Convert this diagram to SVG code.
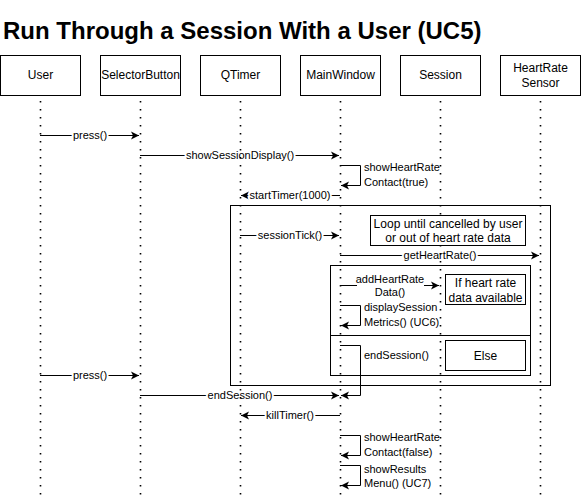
<svg xmlns="http://www.w3.org/2000/svg" width="581" height="498" viewBox="0 0 581 498">
<defs>
<marker id="arr" markerUnits="userSpaceOnUse" markerWidth="10" markerHeight="10" viewBox="0 0 10 8" refX="8" refY="4" orient="auto">
<path d="M0,0 L8,4 L0,8 L2,4 Z" fill="#000"/>
</marker>
<style>
.box{fill:#fff;stroke:#000;stroke-width:1}
.frame{fill:none;stroke:#000;stroke-width:1}
.t{font-family:"Liberation Sans",Arial,Helvetica,sans-serif;font-size:12px;fill:#000;text-anchor:middle}
.m{font-family:"Liberation Sans",Arial,Helvetica,sans-serif;font-size:11px;fill:#000;text-anchor:middle}
.ml{font-family:"Liberation Sans",Arial,Helvetica,sans-serif;font-size:11px;fill:#000;text-anchor:start}
.halo{paint-order:stroke;stroke:#fff;stroke-width:4px;stroke-linejoin:round}
.msg{fill:none;stroke:#000;stroke-width:1;marker-end:url(#arr)}
.life{stroke:#000;stroke-width:1.6;stroke-dasharray:1.6 6.4}
</style>
</defs>
<rect width="581" height="498" fill="#fff"/>
<text x="3" y="39" font-family="'Liberation Sans',Arial,Helvetica,sans-serif" font-size="24" font-weight="bold" fill="#000">Run Through a Session With a User (UC5)</text>

<g id="connectors">
<line class="msg" x1="40" y1="135.5" x2="139" y2="135.5"/>
<text class="m halo" x="90" y="139">press()</text>
<line class="msg" x1="140" y1="155.5" x2="339" y2="155.5"/>
<text class="m halo" x="240" y="159">showSessionDisplay()</text>
<path class="msg" d="M340,165.5 H360.5 V185.5 H341"/>
<text class="ml" x="364" y="171">showHeartRate</text>
<text class="ml" x="364" y="186">Contact(true)</text>
<line class="msg" x1="340" y1="195.5" x2="241" y2="195.5"/>
<text class="m halo" x="290" y="199">startTimer(1000)</text>
<line class="msg" x1="240" y1="235.5" x2="339" y2="235.5"/>
<text class="m halo" x="290" y="239">sessionTick()</text>
<line class="msg" x1="340" y1="255.5" x2="539" y2="255.5"/>
<text class="m halo" x="440" y="259">getHeartRate()</text>
<line class="msg" x1="340" y1="285.5" x2="439" y2="285.5"/>
<rect x="357" y="273" width="67" height="26" fill="#fff"/>
<text class="m" x="390" y="283">addHeartRate</text>
<text class="m" x="390" y="296">Data()</text>
<path class="msg" d="M340,305.5 H360.5 V325.5 H341"/>
<text class="ml" x="364" y="311">displaySession</text>
<text class="ml" x="364" y="326">Metrics() (UC6)</text>
<path class="msg" d="M340,345.5 H360.5 V395.5 H341"/>
<text class="ml" x="364" y="359">endSession()</text>
<line class="msg" x1="40" y1="375.5" x2="139" y2="375.5"/>
<text class="m halo" x="90" y="379">press()</text>
<line class="msg" x1="140" y1="395.5" x2="339" y2="395.5"/>
<text class="m halo" x="240" y="399">endSession()</text>
<line class="msg" x1="340" y1="415.5" x2="241" y2="415.5"/>
<text class="m halo" x="290" y="419">killTimer()</text>
<path class="msg" d="M340,435.5 H360.5 V455.5 H341"/>
<text class="ml" x="364" y="441">showHeartRate</text>
<text class="ml" x="364" y="456">Contact(false)</text>
<path class="msg" d="M340,465.5 H360.5 V485.5 H341"/>
<text class="ml" x="364" y="473">showResults</text>
<text class="ml" x="364" y="487">Menu() (UC7)</text>
</g>

<g id="lifelines">
<line class="life" x1="40.5" y1="101" x2="40.5" y2="498"/>
<line class="life" x1="140.5" y1="101" x2="140.5" y2="498"/>
<line class="life" x1="240.5" y1="101" x2="240.5" y2="498"/>
<line class="life" x1="340.5" y1="101" x2="340.5" y2="498"/>
<line class="life" x1="440.5" y1="101" x2="440.5" y2="498"/>
<line class="life" x1="540.5" y1="101" x2="540.5" y2="498"/>
</g>

<g id="node-user"><rect class="box" x="0.5" y="55.5" width="80" height="40"/><text class="t" x="40.5" y="79">User</text></g>
<g id="node-selectorbutton"><rect class="box" x="100.5" y="55.5" width="80" height="40"/><text class="t" x="140.5" y="79">SelectorButton</text></g>
<g id="node-qtimer"><rect class="box" x="200.5" y="55.5" width="80" height="40"/><text class="t" x="240.5" y="79">QTimer</text></g>
<g id="node-mainwindow"><rect class="box" x="300.5" y="55.5" width="80" height="40"/><text class="t" x="340.5" y="79">MainWindow</text></g>
<g id="node-session"><rect class="box" x="400.5" y="55.5" width="80" height="40"/><text class="t" x="440.5" y="79">Session</text></g>
<g id="node-heartratesensor"><rect class="box" x="500.5" y="55.5" width="80" height="40"/><text class="t" x="540.5" y="72">HeartRate</text><text class="t" x="540.5" y="87">Sensor</text></g>

<g id="frame-loop">
<rect class="frame" x="230.5" y="205.5" width="320" height="180"/>
<rect class="box" x="370.5" y="215.5" width="155" height="30"/>
<text class="t" x="448" y="228">Loop until cancelled by user</text>
<text class="t" x="448" y="242">or out of heart rate data</text>
</g>
<g id="frame-alt">
<rect class="frame" x="330.5" y="265.5" width="200" height="110"/>
<line stroke="#000" stroke-width="1" x1="330.5" y1="335.5" x2="530.5" y2="335.5"/>
<rect class="box" x="445.5" y="274.5" width="80" height="30"/>
<text class="t" x="485.5" y="287">If heart rate</text>
<text class="t" x="485.5" y="302">data available</text>
<rect class="box" x="445.5" y="340.5" width="80" height="30"/>
<text class="t" x="485.5" y="359.5">Else</text>
</g>
</svg>
